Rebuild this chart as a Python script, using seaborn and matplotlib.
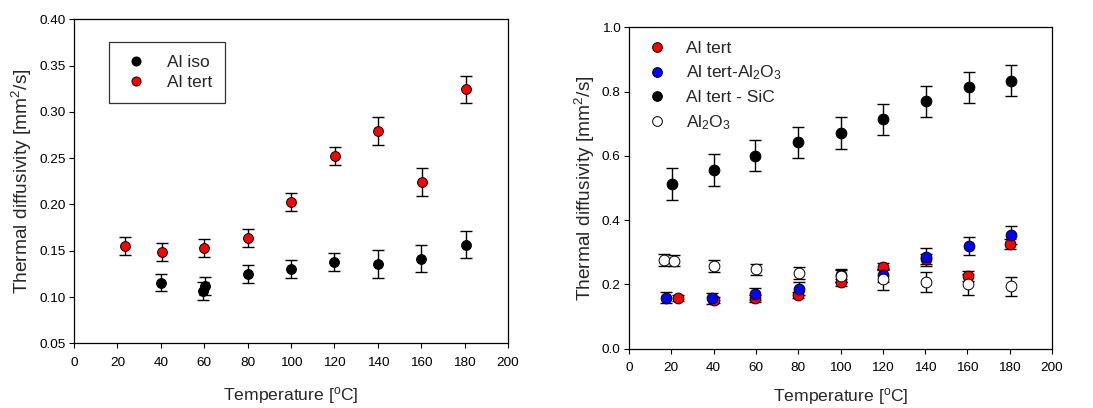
import numpy as np
import pandas as pd
import matplotlib
matplotlib.use("Agg")
import matplotlib.pyplot as plt
import seaborn as sns
from matplotlib.lines import Line2D

# ---- Left panel data ----
iso_T = [40, 59.4, 60.2, 80, 100, 120, 140, 160, 180.5]
iso_D = [0.1155, 0.1065, 0.112, 0.1245, 0.1307, 0.1375, 0.1353, 0.1415, 0.1566]
iso_E = [0.0095, 0.0095, 0.0095, 0.0098, 0.0097, 0.0097, 0.015, 0.0145, 0.0147]

tertL_T = [23.5, 40.4, 59.9, 80, 100, 120.2, 140.1, 160.4, 180.5]
tertL_D = [0.1555, 0.1483, 0.1533, 0.1634, 0.203, 0.2524, 0.2794, 0.2243, 0.3244]
tertL_E = [0.0098, 0.0098, 0.0098, 0.0098, 0.0098, 0.0098, 0.0147, 0.0147, 0.0147]

# ---- Right panel data ----
tert_T = [23.3, 40.2, 59.7, 80, 100, 120.2, 140.3, 160.5, 180.3]
tert_D = [0.1587, 0.1515, 0.1566, 0.167, 0.2064, 0.2552, 0.279, 0.2272, 0.3268]
tert_E = [0.010, 0.010, 0.010, 0.010, 0.010, 0.010, 0.015, 0.015, 0.015]

tal_T = [17.3, 39, 59.8, 80.2, 100, 120.2, 140.3, 160.6, 180.6]
tal_D = [0.1587, 0.1566, 0.170, 0.1867, 0.229, 0.229, 0.2863, 0.3195, 0.3537]
tal_E = [0.017, 0.018, 0.019, 0.02, 0.02, 0.02, 0.028, 0.028, 0.029]

sic_T = [20.3, 40.3, 59.8, 80, 100, 120.2, 140.6, 160.8, 180.6]
sic_D = [0.5124, 0.556, 0.6006, 0.642, 0.672, 0.7137, 0.770, 0.8133, 0.834]
sic_E = [0.049, 0.049, 0.048, 0.049, 0.05, 0.049, 0.049, 0.049, 0.048]

al2o3_T = [16.7, 21.3, 40.3, 60.2, 80.3, 100, 120.2, 140.3, 160.5, 180.5]
al2o3_D = [0.277, 0.274, 0.2573, 0.2469, 0.2344, 0.2261, 0.2158, 0.2075, 0.2002, 0.194]
al2o3_E = [0.019, 0.018, 0.019, 0.018, 0.019, 0.02, 0.032, 0.03, 0.033, 0.03]

x_ticks = [0, 20, 40, 60, 80, 100, 120, 140, 160, 180, 200]
yL_ticks = [0.05, 0.10, 0.15, 0.20, 0.25, 0.30, 0.35, 0.40]
yR_ticks = [0.0, 0.2, 0.4, 0.6, 0.8, 1.0]

sns.set_theme(style="ticks")
plt.rcParams['font.family'] = ['Liberation Sans', 'DejaVu Sans']
plt.rcParams['mathtext.fontset'] = 'custom'
plt.rcParams['mathtext.rm'] = 'Liberation Sans'
plt.rcParams['mathtext.it'] = 'Liberation Sans'
plt.rcParams['mathtext.bf'] = 'Liberation Sans'
plt.rcParams['mathtext.default'] = 'regular'

fig = plt.figure(figsize=(10.93, 4.08), dpi=100)
axL = fig.add_axes([0.0677, 0.1586, 0.3971, 0.7941])
axR = fig.add_axes([0.5755, 0.1453, 0.3870, 0.7877])


def draw(ax, T, D, E, face, label, ms=55):
    ax.errorbar(T, D, yerr=E, fmt='none', ecolor='black', elinewidth=1.0,
                capsize=4, capthick=1.0, zorder=2)
    df = pd.DataFrame({'T': T, 'D': D})
    sns.scatterplot(data=df, x='T', y='D', ax=ax, color=face, edgecolor='black',
                    linewidth=0.7, s=ms, zorder=3, label=label, legend=False)


draw(axL, iso_T, iso_D, iso_E, 'black', 'Al iso', ms=50)
draw(axL, tertL_T, tertL_D, tertL_E, 'red', 'Al tert', ms=50)

draw(axR, tert_T, tert_D, tert_E, 'red', 'Al tert', ms=60)
draw(axR, tal_T, tal_D, tal_E, 'blue', 'Al tert-Al$_2$O$_3$', ms=60)
draw(axR, sic_T, sic_D, sic_E, 'black', 'Al tert - SiC', ms=60)
draw(axR, al2o3_T, al2o3_D, al2o3_E, 'white', 'Al$_2$O$_3$', ms=60)

for ax, yt, ylim, fmt, xpad in [(axL, yL_ticks, (0.05, 0.40), '%.2f', 12),
                                (axR, yR_ticks, (0.0, 1.0), '%.1f', 8.5)]:
    ax.set_xlim(0, 200)
    ax.set_ylim(*ylim)
    ax.set_xticks(x_ticks)
    ax.set_yticks(yt)
    ax.set_yticklabels([fmt % v for v in yt])
    ax.tick_params(direction='out', length=3.6, width=0.8, labelsize=9.7,
                   colors='black')
    ax.tick_params(axis='x', pad=6)
    ax.tick_params(axis='y', pad=2.5)
    for s in ax.spines.values():
        s.set_visible(True)
        s.set_color('black')
        s.set_linewidth(0.9)
    ax.set_xlabel('Temperature [$^o$C]', fontsize=12.6, labelpad=xpad)
    ax.set_ylabel('Thermal diffusivity [mm$^2$/s]', fontsize=13.8, labelpad=3.5)

# legends
hL = [Line2D([], [], marker='o', ls='none', mfc='black', mec='black', ms=6.5, mew=0.7),
      Line2D([], [], marker='o', ls='none', mfc='red', mec='black', ms=6.5, mew=0.7)]
legL = axL.legend(hL, ['Al iso', 'Al tert'], loc='upper left',
                  bbox_to_anchor=(0.08, 0.93), borderaxespad=0, fontsize=12.5,
                  frameon=True, fancybox=False, edgecolor='black',
                  handletextpad=1.0, borderpad=0.75, labelspacing=0.25,
                  handlelength=1.6)
legL.get_frame().set_linewidth(0.9)

hR = [Line2D([], [], marker='o', ls='none', mfc=c, mec='black', ms=7, mew=0.7)
      for c in ['red', 'blue', 'black', 'white']]
axR.legend(hR, ['Al tert', 'Al tert-Al$_2$O$_3$', 'Al tert - SiC', 'Al$_2$O$_3$'],
           loc='upper left', bbox_to_anchor=(0.033, 0.958), borderaxespad=0,
           borderpad=0, fontsize=12.5, frameon=False, handletextpad=0.85,
           labelspacing=0.45, handlelength=1.6)

fig.savefig('out.png', dpi=100)
